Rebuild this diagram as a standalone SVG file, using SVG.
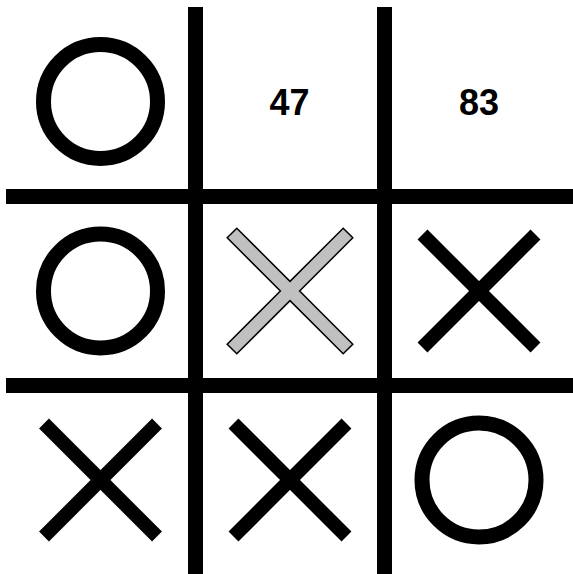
<svg xmlns="http://www.w3.org/2000/svg" width="573" height="574" viewBox="0 0 573 574">
  <defs>
    <style>
      .grid { stroke: #000; stroke-width: 15; fill: none; }
      .o { fill: none; stroke: #000; stroke-width: 15; }
      .x { stroke: #000; stroke-width: 14; fill: none; }
      .xg { fill: #c0c0c0; stroke: #000; stroke-width: 1.5; stroke-linejoin: miter; }
      .num { font-family: "Liberation Sans", Arial, sans-serif; font-weight: bold; font-size: 36px; fill: #000; text-anchor: middle; }
    </style>
    <g id="xmark">
      <line class="x" x1="-56.5" y1="-56.5" x2="56.5" y2="56.5"/>
      <line class="x" x1="56.5" y1="-56.5" x2="-56.5" y2="56.5"/>
    </g>
  </defs>
  <rect x="0" y="0" width="573" height="574" fill="#fff"/>
  <g id="grid">
    <line class="grid" x1="195.5" y1="7" x2="195.5" y2="574"/>
    <line class="grid" x1="384.5" y1="7" x2="384.5" y2="574"/>
    <line class="grid" x1="6" y1="196.5" x2="573" y2="196.5"/>
    <line class="grid" x1="6" y1="385.5" x2="573" y2="385.5"/>
  </g>
  <g id="cell-1-1"><circle class="o" cx="100.5" cy="101.5" r="57"/></g>
  <g id="cell-1-2"><text class="num" x="289.5" y="115">47</text></g>
  <g id="cell-1-3"><text class="num" x="479" y="115">83</text></g>
  <g id="cell-2-1"><circle class="o" cx="100.5" cy="291" r="57"/></g>
  <g id="cell-2-2">
    <polygon class="xg" transform="translate(290,291)" points="0,-9.6 53.2,-62.8 62.8,-53.2 9.6,0 62.8,53.2 53.2,62.8 0,9.6 -53.2,62.8 -62.8,53.2 -9.6,0 -62.8,-53.2 -53.2,-62.8"/>
  </g>
  <g id="cell-2-3"><use href="#xmark" transform="translate(479,291)"/></g>
  <g id="cell-3-1"><use href="#xmark" transform="translate(100.5,480)"/></g>
  <g id="cell-3-2"><use href="#xmark" transform="translate(290,480)"/></g>
  <g id="cell-3-3"><circle class="o" cx="479" cy="480" r="57"/></g>
</svg>
